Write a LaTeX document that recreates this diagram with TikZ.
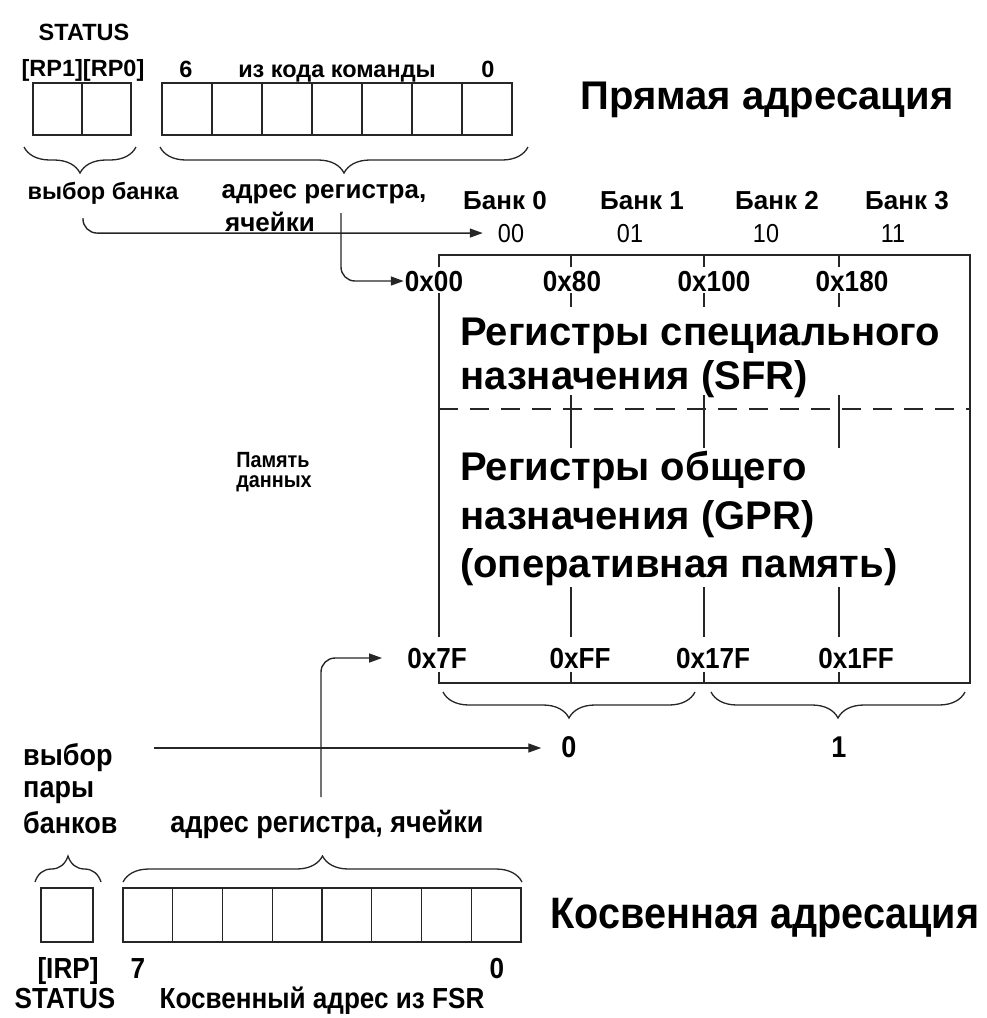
\documentclass[tikz,border=0pt]{standalone}
\usepackage{fontspec}
\setmainfont{Liberation Sans}
\newfontfamily\narrowfont[FakeStretch=0.9]{Liberation Sans}
\usetikzlibrary{arrows.meta, positioning, decorations.pathreplacing, calc}
\newcommand{\fsz}[1]{\fontsize{#1}{#1}\selectfont}
\tikzset{
  rule/.style={line width=1.4pt, draw=black!85},
  arr/.style={line width=1.4pt, draw=black!85, ->, rounded corners=14pt},
  brc/.style={line width=1.3pt, draw=black!85, decorate, decoration={brace, amplitude=26pt}},
  small/.style={font=\bfseries\fsz{23.5}, inner sep=1pt, anchor=base},
  bank/.style={font=\bfseries\fsz{26}, inner sep=1pt, anchor=base},
  code/.style={font=\narrowfont\fsz{26}, inner sep=1pt, anchor=base},
  hex/.style={font=\narrowfont\bfseries\fsz{29}, inner sep=1pt, anchor=base},
  title/.style={font=\bfseries\fsz{40}},
  region/.style={font=\bfseries\fsz{40}, anchor=base west, inner sep=0pt},
  low/.style={font=\narrowfont\bfseries\fsz{30}, inner sep=1pt, anchor=base},
  foot/.style={font=\narrowfont\bfseries\fsz{29}, inner sep=1pt, anchor=base},
}
\begin{document}
\begin{tikzpicture}[x=1pt, y=-1pt, >={Triangle[length=13pt,width=9pt]}]
\useasboundingbox (0,0) rectangle (987,1018);

% direct addressing
\node[small] (stat) at (84,40) {STATUS};
\node[small] (rp) at (83,76) {[RP1][RP0]};
\node[small] (bitsix) at (186,77) {6};
\node[small] (opcode) at (337,77) {из кода команды};
\node[small] (bitzero) at (488,77) {0};
\foreach \i in {0,1}
    \draw[rule] (33+49*\i,83) rectangle ++(49,52);
\foreach \i in {0,...,6}
    \draw[rule] (162+50*\i,83) rectangle ++(50,52);
\node[title] (direct) at (767,100) {Прямая адресация};
\draw[brc] (136,147) -- (24,147);
\draw[brc] (528,147) -- (160,147);
\node[small] (bsel) at (103,199) {выбор банка};
\node[bank] (raddr) at (324,198) {адрес регистра,};
\node[bank] (raddrb) at (270,231) {ячейки};

% banks
\foreach \n/\x/\code/\cx in {0/505/00/511, 1/642/01/630, 2/777/10/766, 3/907/11/893}
{
    \node[bank] (bank\n) at (\x,209) {Банк \n};
    \node[code] (bnum\n) at (\cx,242) {\code};
}
\foreach \n/\x/\t in {0/434/0x00, 1/572/0x80, 2/714/0x100, 3/852/0x180}
    \node[hex] (hexa\n) at (\x,291) {\t};
\coordinate (bsel-s) at (83,218);
\draw[arr, shorten >=14pt] (bsel-s) |- (bnum0.west);
\coordinate (raddr-s) at (341,213);
\draw[arr] (raddr-s) |- (hexa0.west);

% data memory
\draw[rule] (439,267) -- (439,255) -- (970,255) -- (970,683) -- (439,683) -- (439,672);
\draw[rule] (439,293) -- (439,637);
\foreach \x in {571,704,839}
    \draw[rule] (\x,255) -- (\x,267) (\x,293) -- (\x,307) (\x,395) -- (\x,448)
        (\x,587) -- (\x,637) (\x,672) -- (\x,683);
\draw[line width=2.6pt, draw=black!85, dash pattern=on 19pt off 12pt] (439,409) -- (970,409);
\node[region] (sfra) at (460,345) {Регистры специального};
\node[region] (sfrb) at (460,389) {назначения (SFR)};
\node[region] (gpra) at (460,480) {Регистры общего};
\node[region] (gprb) at (460,529) {назначения (GPR)};
\node[region] (gprc) at (460,577) {(оперативная память)};
\node[font=\narrowfont\bfseries\fontsize{22}{20}\selectfont, align=left] (mem) at (274,472) {Память\\данных};
\foreach \n/\x/\t in {0/437/0x7F, 1/580/0xFF, 2/713/0x17F, 3/856/0x1FF}
    \node[hex] (hexe\n) at (\x,668) {\t};
\draw[brc] (695,692) -- (443,692);
\draw[brc] (965,692) -- (711,692);
\node[low] (pair0) at (569,757) {0};
\node[low] (pair1) at (839,757) {1};

% indirect addressing
\coordinate (pair-s) at (154,748);
\draw[arr, shorten >=19pt] (pair-s) -- (pair-s -| pair0.west);
\coordinate (iaddr-s) at (321,797);
\draw[arr, shorten >=24pt] (iaddr-s) |- (hexe0.west);
\node[low, anchor=base west] (psela) at (22,765) {выбор};
\node[low, anchor=base west] (pselb) at (22,797) {пары};
\node[low, anchor=base west] (pselc) at (22,833) {банков};
\node[low] (iaddr) at (327,832) {адрес регистра, ячейки};
\draw[brc] (35,882) -- (101,882);
\draw[brc] (123,882) -- (522,882);
\draw[rule] (41,888) rectangle (93,942);
\foreach \i in {0,...,7}
    \draw[rule] (123+49.75*\i,888) rectangle ++(49.75,54);
\node[font=\narrowfont\bfseries\fsz{44}] (indirect) at (765,918) {Косвенная адресация};
\node[foot] (irp) at (68,978) {[IRP]};
\node[foot] (bitseven) at (138,978) {7};
\node[foot] (bitnull) at (497,978) {0};
\node[foot] (istat) at (65,1008) {STATUS};
\node[foot] (fsr) at (322,1008) {Косвенный адрес из FSR};
\end{tikzpicture}
\end{document}
